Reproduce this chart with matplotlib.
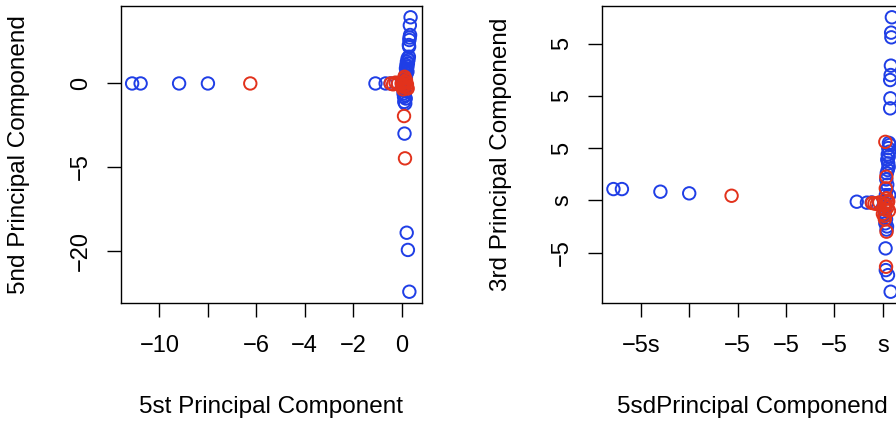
import numpy as np
import matplotlib
matplotlib.use("Agg")
import matplotlib.pyplot as plt

plt.rcParams['font.family'] = ['Liberation Sans', 'DejaVu Sans']

# principal component scores, group A (blue)
pc1_a = [-11.13, -10.78, -9.19, -8.00, -1.08, -0.66, -0.46,
         0.37, 0.34, 0.35, 0.33, 0.32, 0.30, 0.31, 0.30, 0.28, 0.26,
         0.24, 0.22, 0.20, 0.18, 0.15, 0.10, 0.08, 0.10, 0.11, 0.12,
         0.21, 0.26, 0.32,
         0.25, 0.22, 0.20, 0.18, 0.24, 0.16, 0.14, 0.12, 0.10, 0.09, 0.13, 0.17, 0.15]
pc2_a = [0.0, 0.0, 0.0, 0.0, 0.0, 0.0, 0.0,
         3.96, 3.48, 2.90, 2.75, 2.60, 2.30, 2.20, 1.60, 1.40, 1.20,
         1.00, 0.80, 0.60, 0.40, 0.20, -0.30, -0.60, -0.80, -1.10, -3.00,
         -8.93, -9.96, -12.46,
         1.5, 1.3, 1.1, 0.9, 0.7, 0.5, 0.3, 0.1, -0.1, -0.4, -0.7, -0.9, -1.2]
pc3_a = [1.08, 1.08, 0.83, 0.67, -0.13, -0.22, -0.20,
         17.53, 16.06, 15.61, 12.90, 12.00, 11.52, 9.77, 8.81, 5.30, 4.66,
         4.18, 3.54, 2.90, 1.50, 1.00, -0.80, -1.25, -2.20, -4.60, -6.68,
         -7.16, 0.50, -8.75,
         5.5, 5.0, 4.4, 3.9, 3.2, 2.6, 2.0, 0.5, -0.3, -1.5, -1.8, -2.5, -2.8]

# group B (red)
pc1_b = [-6.25, -0.45, -0.35, -0.25, -0.15,
         0.10, 0.14, 0.12, 0.15, 0.13,
         0.05, 0.10, 0.00, 0.20, 0.15, 0.08, 0.18, 0.25, 0.12, 0.06, 0.22]
pc2_b = [0.0, 0.0, -0.05, 0.05, 0.0,
         -1.95, -4.48, 0.30, 0.10, -0.10,
         -0.20, -0.10, 0.00, -0.25, 0.05, -0.15, 0.20, -0.30, 0.40, -0.35, -0.05]
pc3_b = [0.44, -0.25, -0.30, -0.35, -0.20,
         5.60, 2.26, 1.15, -3.00, -6.36,
         -0.50, -0.90, -1.30, -0.20, 0.20, -1.80, -0.70, -1.00, -0.40, -1.50, -0.10]

x_ticks = [-10, -8, -6, -4, -2, 0]
left_xlabels = ['\u221210', '', '\u22126', '\u22124', '\u22122', '0']
left_yticks = [0, -5, -10]
left_ylabels = ['0', '\u22125', '\u221220']
right_xlabels = ['\u22125s', '', '\u22125', '\u22125', '\u22125', 's']
right_yticks = [15, 10, 5, 0, -5]
right_ylabels = ['5', '5', '5', 's', '\u22125']

blue = '#1f3ee6'
red = '#e2321c'

W, H = 896, 423
fig = plt.figure(figsize=(W / 100, H / 100), dpi=100)
ax1 = fig.add_axes([121 / W, (H - 302.7) / H, 300.7 / W, 296.4 / H])
ax2 = fig.add_axes([602.3 / W, (H - 302.7) / H, 300.7 / W, 296.4 / H])


def r_limits(vals):
    lo, hi = min(vals), max(vals)
    pad = 0.04 * (hi - lo)
    return lo - pad, hi + pad


def style(ax, xt, xl, yt, yl, xlabel, ylabel):
    ax.set_xticks(xt)
    ax.set_xticklabels(xl)
    ax.set_yticks(yt)
    ax.set_yticklabels(yl, rotation=90, va='center')
    ax.tick_params(direction='out', length=10, width=1.0, labelsize=17,
                   colors='black')
    ax.tick_params(axis='x', pad=13)
    ax.tick_params(axis='y', pad=11)
    for s in ax.spines.values():
        s.set_linewidth(1.0)
    ax.set_xlabel(xlabel, fontsize=17.5, va='center')
    ax.set_ylabel(ylabel, fontsize=17.5, va='center')
    ax.xaxis.set_label_coords(0.5, -0.351)
    ax.yaxis.set_label_coords(-0.338, 0.5)


kw = dict(facecolors='none', s=80, linewidths=1.4)

ax1.scatter(pc1_a, pc2_a, edgecolors=blue, **kw)
ax1.scatter(pc1_b, pc2_b, edgecolors=red, **kw)
ax1.set_xlim(r_limits(pc1_a + pc1_b))
ax1.set_ylim(r_limits(pc2_a + pc2_b))
style(ax1, x_ticks, left_xlabels, left_yticks, left_ylabels,
      '5st Principal Component', '5nd Principal Componend')

ax2.scatter(pc1_a, pc3_a, edgecolors=blue, **kw)
ax2.scatter(pc1_b, pc3_b, edgecolors=red, **kw)
ax2.set_xlim(r_limits(pc1_a + pc1_b))
ax2.set_ylim(r_limits(pc3_a + pc3_b))
style(ax2, x_ticks, right_xlabels, right_yticks, right_ylabels,
      '5sdPrincipal Componend', '3rd Principal Componend')

fig.savefig('out.png', dpi=100)
